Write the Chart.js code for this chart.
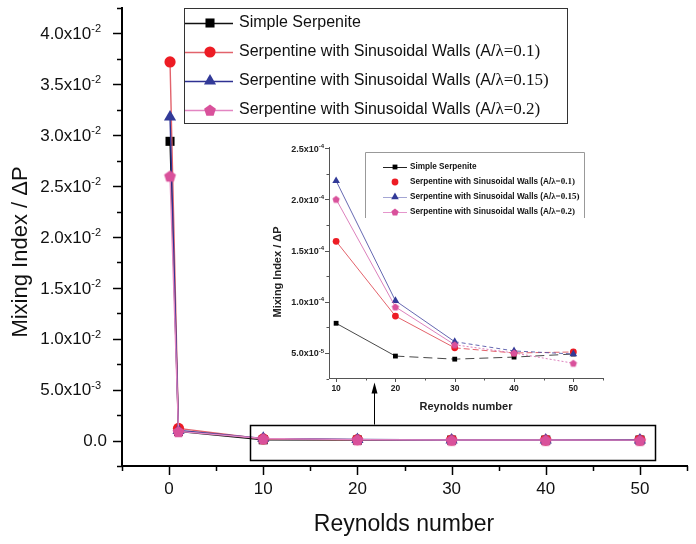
<!DOCTYPE html>
<html>
<head>
<meta charset="utf-8">
<script src="https://cdn.jsdelivr.net/npm/chart.js@4.4.1/dist/chart.umd.min.js"></script>
<style>
  html, body { margin: 0; padding: 0; background: #fff; }
  #wrap { position: relative; width: 696px; height: 544px; overflow: hidden; }
  #main { position: absolute; left: 0; top: 0; }
  #inset { position: absolute; left: 260px; top: 130px; }
</style>
</head>
<body>
<div id="wrap">
  <canvas id="main" width="696" height="544"></canvas>
  <canvas id="inset" width="360" height="290"></canvas>
</div>
<script>
// Reynolds numbers and mixing index per pressure drop for each channel
const reynolds = [0.1, 1, 10, 20, 30, 40, 50];
const simpleSerpentine = [0.0294, 0.0009, 7.9e-5, 4.7e-5, 4.4e-5, 4.6e-5, 4.9e-5];
const sinusoidal01 = [0.0372, 0.0012, 1.59e-4, 8.6e-5, 5.5e-5, 5.0e-5, 5.1e-5];
const sinusoidal015 = [0.0318, 0.0010, 2.18e-4, 1.01e-4, 6.1e-5, 5.2e-5, 4.9e-5];
const sinusoidal02 = [0.0260, 0.0009, 2.0e-4, 9.5e-5, 5.8e-5, 5.0e-5, 4.0e-5];

const seriesLabels = [
  'Simple Serpenite',
  'Serpentine with Sinusoidal Walls (A/\u03bb=0.1)',
  'Serpentine with Sinusoidal Walls (A/\u03bb=0.15)',
  'Serpentine with Sinusoidal Walls (A/\u03bb=0.2)'
];

// Axis ticks
const mainXTicks = [0, 10, 20, 30, 40, 50];
const mainYTicks = [0, 0.005, 0.01, 0.015, 0.02, 0.025, 0.03, 0.035, 0.04];
const insetXTicks = [10, 20, 30, 40, 50];
const insetYTicks = [5e-5, 1e-4, 1.5e-4, 2e-4, 2.5e-4];

const SANS = "Arial, 'Liberation Sans', Helvetica, sans-serif";
const SERIF = "'Times New Roman', 'Liberation Serif', serif";

const COLORS = {
  black: { line: '#111111', mark: '#000000' },
  red:   { line: '#e2636c', mark: '#ed1c24' },
  blue:  { line: '#2e3192', mark: '#323a98' },
  pink:  { line: '#e386c2', mark: '#d9519b' }
};

function pentagonImage(r, color) {
  const s = Math.ceil(2 * r + 2);
  const c = document.createElement('canvas');
  c.width = s; c.height = s;
  const g = c.getContext('2d');
  g.beginPath();
  for (let i = 0; i < 5; i++) {
    const a = -Math.PI / 2 + i * 2 * Math.PI / 5;
    const px = s / 2 + r * Math.cos(a), py = s / 2 + r * Math.sin(a) + r * 0.1;
    if (i === 0) g.moveTo(px, py); else g.lineTo(px, py);
  }
  g.closePath();
  g.fillStyle = color;
  g.fill();
  return c;
}

function drawMarker(ctx, style, x, y, r, color) {
  ctx.save();
  ctx.fillStyle = color;
  ctx.beginPath();
  if (style === 'rect') {
    const h = r * Math.SQRT1_2;
    ctx.rect(x - h, y - h, 2 * h, 2 * h);
  } else if (style === 'circle') {
    ctx.arc(x, y, r, 0, Math.PI * 2);
  } else if (style === 'triangle') {
    ctx.moveTo(x, y - r);
    ctx.lineTo(x + r * Math.sin(Math.PI / 3), y + r / 2);
    ctx.lineTo(x - r * Math.sin(Math.PI / 3), y + r / 2);
    ctx.closePath();
  } else if (style === 'pentagon') {
    for (let i = 0; i < 5; i++) {
      const a = -Math.PI / 2 + i * 2 * Math.PI / 5;
      const px = x + r * Math.cos(a), py = y + r * Math.sin(a) + r * 0.1;
      if (i === 0) ctx.moveTo(px, py); else ctx.lineTo(px, py);
    }
    ctx.closePath();
  }
  ctx.fill();
  ctx.restore();
}

function sciParts(v) {
  if (v === 0) return ['0.0', ''];
  const e = Math.floor(Math.log10(v) + 1e-9);
  const m = Math.round(v / Math.pow(10, e) * 10) / 10;
  return [m.toFixed(1) + 'x10', String(e)];
}

function drawSci(ctx, v, xRight, y, size, supSize, weight, supRise) {
  const [base, exp] = sciParts(v);
  ctx.font = weight + ' ' + size + 'px ' + SANS;
  const wb = ctx.measureText(base).width;
  ctx.font = weight + ' ' + supSize + 'px ' + SANS;
  const we = exp ? ctx.measureText(exp).width : 0;
  const x0 = xRight - wb - we;
  ctx.textAlign = 'left';
  ctx.textBaseline = 'middle';
  ctx.font = weight + ' ' + size + 'px ' + SANS;
  ctx.fillText(base, x0, y);
  if (exp) {
    ctx.font = weight + ' ' + supSize + 'px ' + SANS;
    ctx.fillText(exp, x0 + wb, y - supRise);
  }
}

function drawLegendText(ctx, text, x, y, size, serifSize, weight) {
  const cut = text.indexOf('(A/');
  ctx.textAlign = 'left';
  ctx.textBaseline = 'middle';
  ctx.fillStyle = '#111';
  if (cut < 0) {
    ctx.font = weight + ' ' + size + 'px ' + SANS;
    ctx.fillText(text, x, y);
    return;
  }
  const a = text.slice(0, cut + 3), b = text.slice(cut + 3);
  ctx.font = weight + ' ' + size + 'px ' + SANS;
  ctx.fillText(a, x, y);
  const w = ctx.measureText(a).width;
  ctx.font = weight + ' ' + serifSize + 'px ' + SERIF;
  ctx.fillText(b, x + w, y);
}

function points(values, xs) {
  return xs.map((x, i) => ({ x: x, y: values[i] }));
}

// later series are painted over earlier ones
const seriesDefs = [
  { values: simpleSerpentine, color: COLORS.black, style: 'rect', order: 3 },
  { values: sinusoidal01, color: COLORS.red, style: 'circle', order: 2 },
  { values: sinusoidal015, color: COLORS.blue, style: 'triangle', order: 1 },
  { values: sinusoidal02, color: COLORS.pink, style: 'pentagon', order: 0 }
];

// ---------- main chart ----------
const mainRadius = { rect: 6.4, circle: 5.6, triangle: 7, pentagon: 6.2 };

const mainDecor = {
  id: 'mainDecor',
  afterDraw(chart) {
    const ctx = chart.ctx;
    const xs = chart.scales.x, ys = chart.scales.y;
    const area = chart.chartArea;
    ctx.save();
    ctx.strokeStyle = '#000';
    ctx.lineWidth = 1.5;
    // y ticks (outward)
    for (let v = -0.0025; v <= 0.04251; v += 0.0025) {
      const yy = Math.round(ys.getPixelForValue(v)) + 0.5;
      const major = Math.abs(Math.round(v / 0.005) * 0.005 - v) < 1e-7;
      ctx.beginPath();
      ctx.moveTo(area.left, yy);
      ctx.lineTo(area.left - (major ? 9 : 5), yy);
      ctx.stroke();
    }
    // x ticks (outward)
    for (let v = -5; v <= 55; v += 5) {
      const xx = Math.round(xs.getPixelForValue(v)) + 0.5;
      const major = v % 10 === 0;
      ctx.beginPath();
      ctx.moveTo(xx, area.bottom);
      ctx.lineTo(xx, area.bottom + (major ? 9 : 5));
      ctx.stroke();
    }
    // tick labels
    ctx.fillStyle = '#111';
    mainYTicks.forEach(v => {
      const yy = ys.getPixelForValue(v);
      drawSci(ctx, v, v === 0 ? 107 : 101, yy + 1, 17, 11, 'normal', 5);
    });
    ctx.font = '17px ' + SANS;
    ctx.textAlign = 'center';
    ctx.textBaseline = 'middle';
    mainXTicks.forEach(v => ctx.fillText(String(v), xs.getPixelForValue(v), 489));
    // axis titles
    ctx.font = '23px ' + SANS;
    ctx.textAlign = 'center';
    ctx.textBaseline = 'alphabetic';
    ctx.fillText('Reynolds number', 404, 531);
    ctx.save();
    ctx.translate(27, 252);
    ctx.rotate(-Math.PI / 2);
    ctx.font = '22px ' + SANS;
    ctx.fillText('Mixing Index / \u0394P', 0, 0);
    ctx.restore();

    // highlight box around the low-value region and arrow to the inset
    const bx0 = xs.getPixelForValue(8.6), bx1 = xs.getPixelForValue(51.6);
    const by0 = ys.getPixelForValue(0.00157), by1 = ys.getPixelForValue(-0.00185);
    ctx.lineWidth = 1.5;
    ctx.strokeStyle = '#000';
    ctx.strokeRect(Math.round(bx0) + 0.5, Math.round(by0) + 0.5, Math.round(bx1 - bx0), Math.round(by1 - by0));
    const ax = Math.round(xs.getPixelForValue(21.8)) + 0.5;
    const ayTip = ys.getPixelForValue(0.0057);
    ctx.lineWidth = 1;
    ctx.beginPath();
    ctx.moveTo(ax, by0);
    ctx.lineTo(ax, ayTip + 8);
    ctx.stroke();
    ctx.fillStyle = '#000';
    ctx.beginPath();
    ctx.moveTo(ax, ayTip);
    ctx.lineTo(ax + 3, ayTip + 11);
    ctx.lineTo(ax - 3, ayTip + 11);
    ctx.closePath();
    ctx.fill();

    // legend
    ctx.fillStyle = '#fff';
    ctx.fillRect(184, 8, 383, 115);
    ctx.strokeStyle = '#333';
    ctx.lineWidth = 1;
    ctx.strokeRect(184.5, 8.5, 383, 115);
    const rows = [23, 52, 81, 110];
    seriesDefs.forEach((s, i) => {
      const y = rows[i];
      ctx.strokeStyle = s.color.line;
      ctx.lineWidth = 1.3;
      ctx.beginPath();
      ctx.moveTo(185, y + 0.5);
      ctx.lineTo(233, y + 0.5);
      ctx.stroke();
      drawMarker(ctx, s.style, 210, y, mainRadius[s.style], s.color.mark);
      drawLegendText(ctx, seriesLabels[i], 239, y, 16, 17, 'normal');
    });
    ctx.restore();
  }
};

const mainDatasets = seriesDefs.map((s, i) => ({
  label: seriesLabels[i],
  order: s.order,
  data: points(s.values, reynolds),
  borderColor: s.color.line,
  borderWidth: 1.4,
  backgroundColor: s.color.mark,
  pointStyle: s.style === 'pentagon' ? pentagonImage(6.2, s.color.mark) : s.style,
  pointRadius: mainRadius[s.style],
  pointBackgroundColor: s.color.mark,
  pointBorderColor: s.color.mark,
  pointBorderWidth: 0,
  tension: 0,
  fill: false
}));

new Chart(document.getElementById('main'), {
  type: 'line',
  data: { datasets: mainDatasets },
  options: {
    responsive: false,
    animation: false,
    devicePixelRatio: 1,
    layout: { padding: { top: 8, right: 9, left: 0, bottom: 0 } },
    plugins: { legend: { display: false }, tooltip: { enabled: false } },
    scales: {
      x: {
        type: 'linear', min: -5, max: 55,
        grid: { display: false },
        border: { display: true, color: '#000', width: 2 },
        ticks: { display: false },
        afterFit(s) { s.height = 78; }
      },
      y: {
        type: 'linear', min: -0.0025, max: 0.0425,
        grid: { display: false },
        border: { display: true, color: '#000', width: 2 },
        ticks: { display: false },
        afterFit(s) { s.width = 122; }
      }
    }
  },
  plugins: [mainDecor]
});

// ---------- inset chart (Re 10 to 50) ----------
const insetRe = reynolds.slice(2);
const insetRadius = { rect: 3.4, circle: 3.4, triangle: 4.4, pentagon: 3.8 };
const insetLine = ['#333333', '#e0505a', '#5557a8', '#d873b4'];
const insetDash = [
  c => (c.p0DataIndex >= 1 ? [9, 5] : undefined),
  c => (c.p0DataIndex >= 2 ? [6, 3] : undefined),
  c => (c.p0DataIndex >= 2 ? [4, 3] : undefined),
  c => (c.p0DataIndex >= 2 ? [2, 2] : undefined)
];

const insetDecor = {
  id: 'insetDecor',
  afterDraw(chart) {
    const ctx = chart.ctx;
    const xs = chart.scales.x, ys = chart.scales.y;
    const area = chart.chartArea;
    ctx.save();
    ctx.strokeStyle = '#555';
    ctx.lineWidth = 1;
    for (let k = 1; k <= 10; k++) {
      const v = k * 2.5e-5;
      const yy = Math.round(ys.getPixelForValue(v)) + 0.5;
      ctx.beginPath();
      ctx.moveTo(area.left, yy);
      ctx.lineTo(area.left - (k % 2 === 0 ? 4 : 2.5), yy);
      ctx.stroke();
    }
    for (let v = 10; v <= 55; v += 5) {
      const xx = Math.round(xs.getPixelForValue(v)) + 0.5;
      ctx.beginPath();
      ctx.moveTo(xx, area.bottom);
      ctx.lineTo(xx, area.bottom + (v % 10 === 0 ? 4 : 2.5));
      ctx.stroke();
    }
    ctx.fillStyle = '#222';
    insetYTicks.forEach(v => {
      drawSci(ctx, v, area.left - 5, ys.getPixelForValue(v) + 1, 9, 6, 'bold', 3);
    });
    ctx.font = 'bold 8.5px ' + SANS;
    ctx.textAlign = 'center';
    ctx.textBaseline = 'middle';
    insetXTicks.forEach(v => ctx.fillText(String(v), xs.getPixelForValue(v), 259));
    ctx.font = 'bold 11px ' + SANS;
    ctx.fillText('Reynolds number', 206, 277);
    ctx.save();
    ctx.translate(18, 142);
    ctx.rotate(-Math.PI / 2);
    ctx.fillText('Mixing Index / \u0394P', 0, 0);
    ctx.restore();

    // inset legend
    ctx.strokeStyle = '#999';
    ctx.lineWidth = 1;
    ctx.beginPath();
    ctx.moveTo(105.5, 88);
    ctx.lineTo(105.5, 22.5);
    ctx.lineTo(324.5, 22.5);
    ctx.lineTo(324.5, 88);
    ctx.stroke();
    const rows = [37, 52, 67, 82];
    const legendLine = ['#222222', null, '#a4a6d4', '#e596cc'];
    seriesDefs.forEach((s, i) => {
      const y = rows[i];
      if (legendLine[i]) {
        ctx.strokeStyle = legendLine[i];
        ctx.lineWidth = 1;
        ctx.beginPath();
        ctx.moveTo(123, y + 0.5);
        ctx.lineTo(147, y + 0.5);
        ctx.stroke();
      }
      drawMarker(ctx, s.style, 135, y, insetRadius[s.style], s.color.mark);
      drawLegendText(ctx, seriesLabels[i], 150, y, 8.2, 9, 'bold');
    });
    ctx.restore();
  }
};

const insetDatasets = seriesDefs.map((s, i) => ({
  label: seriesLabels[i],
  order: s.order,
  data: points(s.values.slice(2), insetRe),
  borderColor: insetLine[i],
  borderWidth: 0.9,
  segment: { borderDash: insetDash[i] },
  pointStyle: s.style === 'pentagon' ? pentagonImage(3.8, s.color.mark) : s.style,
  pointRadius: insetRadius[s.style],
  pointBackgroundColor: s.color.mark,
  pointBorderColor: s.color.mark,
  pointBorderWidth: 0,
  tension: 0,
  fill: false
}));

new Chart(document.getElementById('inset'), {
  type: 'line',
  data: { datasets: insetDatasets },
  options: {
    responsive: false,
    animation: false,
    devicePixelRatio: 1,
    layout: { padding: { top: 17, right: 17, left: 0, bottom: 0 } },
    plugins: { legend: { display: false }, tooltip: { enabled: false } },
    scales: {
      x: {
        type: 'linear', min: 8.8, max: 55,
        grid: { display: false },
        border: { display: true, color: '#555', width: 1 },
        ticks: { display: false },
        afterFit(s) { s.height = 42; }
      },
      y: {
        type: 'linear', min: 2.56e-5, max: 2.51e-4,
        grid: { display: false },
        border: { display: true, color: '#555', width: 1 },
        ticks: { display: false },
        afterFit(s) { s.width = 69; }
      }
    }
  },
  plugins: [insetDecor]
});
</script>
</body>
</html>
